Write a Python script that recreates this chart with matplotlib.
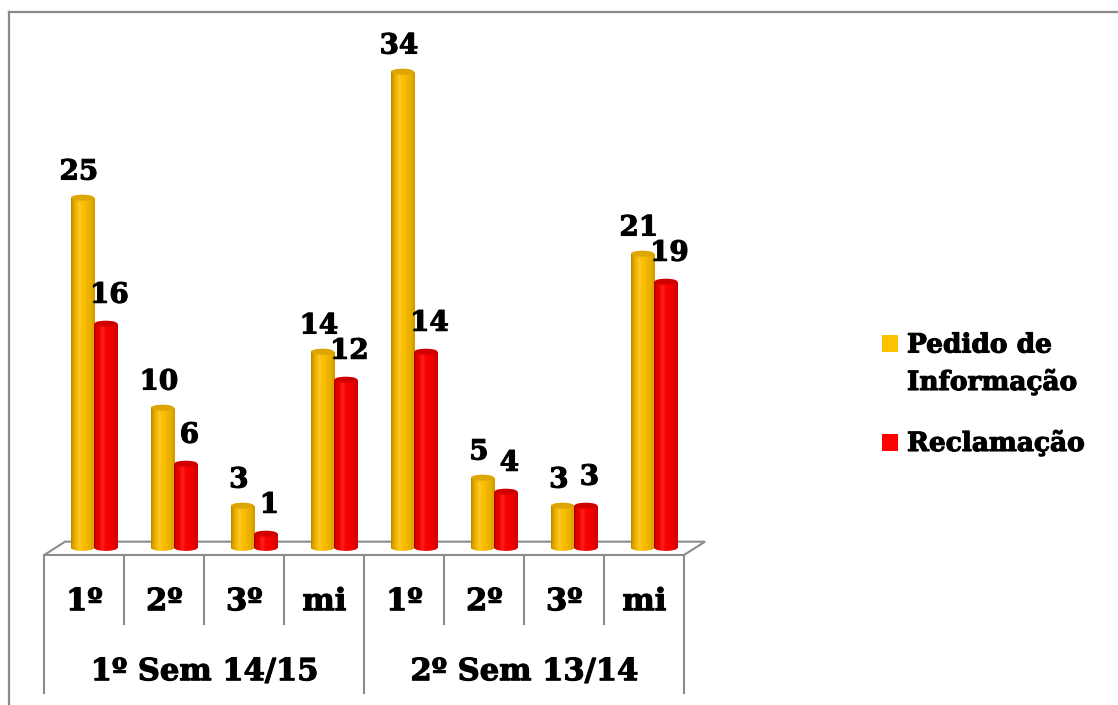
import numpy as np
import matplotlib.pyplot as plt
import matplotlib.patheffects as pe
from matplotlib.patches import Ellipse, Polygon, Rectangle
from matplotlib.lines import Line2D
from matplotlib.colors import to_rgb

# data
categories = ["1º", "2º", "3º", "mi", "1º", "2º", "3º", "mi"]
groups = ["1º Sem 14/15", "2º Sem 13/14"]
pedido = [25, 10, 3, 14, 34, 5, 3, 21]
reclamacao = [16, 6, 1, 12, 14, 4, 3, 19]
series = ["Pedido de Informação", "Reclamação"]
colors = ["#FFC000", "#FF0000"]
top_colors = ["#DCA600", "#D00000"]

FONT = "DejaVu Serif"
W, H = 1118, 705
PX_X, PX_Y = 80.0, 14.0   # pixels per data unit
heavy = [pe.withStroke(linewidth=0.8, foreground="black")]

fig = plt.figure(figsize=(W / 100, H / 100), dpi=100)
ax = fig.add_axes([0, 0, 1, 1])
ax.axis("off")


def cyl_gradient(color, n=80):
    t = np.linspace(0, 1, n)
    shade = np.interp(t, [0, 0.1, 0.32, 0.55, 0.85, 1.0],
                      [0.70, 0.86, 1.0, 0.98, 0.90, 0.80])
    base = np.array(to_rgb(color))
    rgb = base[None, :] * shade[:, None]
    hl = np.exp(-((t - 0.36) / 0.09) ** 2) * 0.12
    rgb = rgb + (1 - rgb) * hl[:, None]
    return rgb[None, :, :]


x = np.arange(len(categories))
bw = 0.29
eh = 6 / PX_Y
offsets = [-0.167, 0.125]

# floor
floor = Polygon([(-0.241, 0.43), (7.759, 0.43), (7.496, -0.52), (-0.5, -0.52)],
                closed=True, facecolor="white", edgecolor="#8C8C8C", lw=1.5, zorder=1)
ax.add_patch(floor)

label_dx = [-3.7 / PX_X, 3.5 / PX_X]
label_dy = [25.7 / PX_Y, 28.5 / PX_Y]

for vals, off, c, tc, dx, dy in zip([pedido, reclamacao], offsets, colors, top_colors,
                                    label_dx, label_dy):
    grad = cyl_gradient(c)
    bars = ax.bar(x + off, vals, width=bw, align="edge", color=c, lw=0, zorder=3)
    for b, v in zip(bars, vals):
        x0, w, h = b.get_x(), b.get_width(), b.get_height()
        cx = x0 + w / 2
        im = ax.imshow(grad, extent=(x0, x0 + w, 0, h), aspect="auto",
                       interpolation="bilinear", zorder=3)
        im.set_clip_path(b)
        bot = Ellipse((cx, 0), w, eh, facecolor=c, lw=0, zorder=3)
        ax.add_patch(bot)
        im2 = ax.imshow(grad, extent=(x0, x0 + w, -eh, eh), aspect="auto",
                        interpolation="bilinear", zorder=3)
        im2.set_clip_path(bot)
        ax.add_patch(Ellipse((cx, h), w, eh, facecolor=tc, lw=0, zorder=4))
        ax.text(cx + dx, h + dy, str(v), ha="center", va="center", fontsize=20,
                fontweight="bold", family=FONT, zorder=5, path_effects=heavy)

# category axis grid
y_front = -0.52
y_inner = (547.7 - 624) / PX_Y
y_outer = (547.7 - 693) / PX_Y
for k in range(len(categories) + 1):
    xe = k - 0.5
    yb = y_outer if k % 4 == 0 else y_inner
    ax.plot([xe, xe], [y_front, yb], color="#8C8C8C", lw=1.5, zorder=1)

y_cat = (547.7 - 601.7) / PX_Y
for xi, lab in zip(x, categories):
    ax.text(xi, y_cat, lab, ha="center", va="center", fontsize=22,
            fontweight="bold", family=FONT, path_effects=heavy)

y_grp = (547.7 - 671.7) / PX_Y
for gi, g in enumerate(groups):
    ax.text(gi * 4 + 1.5, y_grp, g, ha="center", va="center", fontsize=22,
            fontweight="bold", family=FONT, path_effects=heavy)

ax.set_xlim(-0.5 - 44.3 / PX_X, -0.5 + (W - 44.3) / PX_X)
ax.set_ylim(-(H - 547.7) / PX_Y, 547.7 / PX_Y)

# outer chart border (top and left visible)
fig.add_artist(Line2D([8.5 / W, 8.5 / W], [0, 1 - 12 / H], transform=fig.transFigure,
                      color="#898989", lw=1.6))
fig.add_artist(Line2D([8.5 / W, 1], [1 - 12 / H, 1 - 12 / H], transform=fig.transFigure,
                      color="#898989", lw=1.6))

# legend
fig.add_artist(Rectangle((882 / W, 1 - 352 / H), 16 / W, 17 / H, transform=fig.transFigure,
                         facecolor=colors[0], lw=0))
fig.add_artist(Rectangle((882 / W, 1 - 451 / H), 16 / W, 17 / H, transform=fig.transFigure,
                         facecolor=colors[1], lw=0))
words = series[0].split(" ")
fig.text(907 / W, 1 - 345 / H, " ".join(words[:2]), ha="left", va="center", fontsize=19,
         fontweight="bold", family=FONT, path_effects=heavy)
fig.text(907 / W, 1 - 382 / H, words[2], ha="left", va="center", fontsize=19,
         fontweight="bold", family=FONT, path_effects=heavy)
fig.text(907 / W, 1 - 443 / H, series[1], ha="left", va="center", fontsize=19,
         fontweight="bold", family=FONT, path_effects=heavy)

fig.savefig("out.png", dpi=100, facecolor="white")
